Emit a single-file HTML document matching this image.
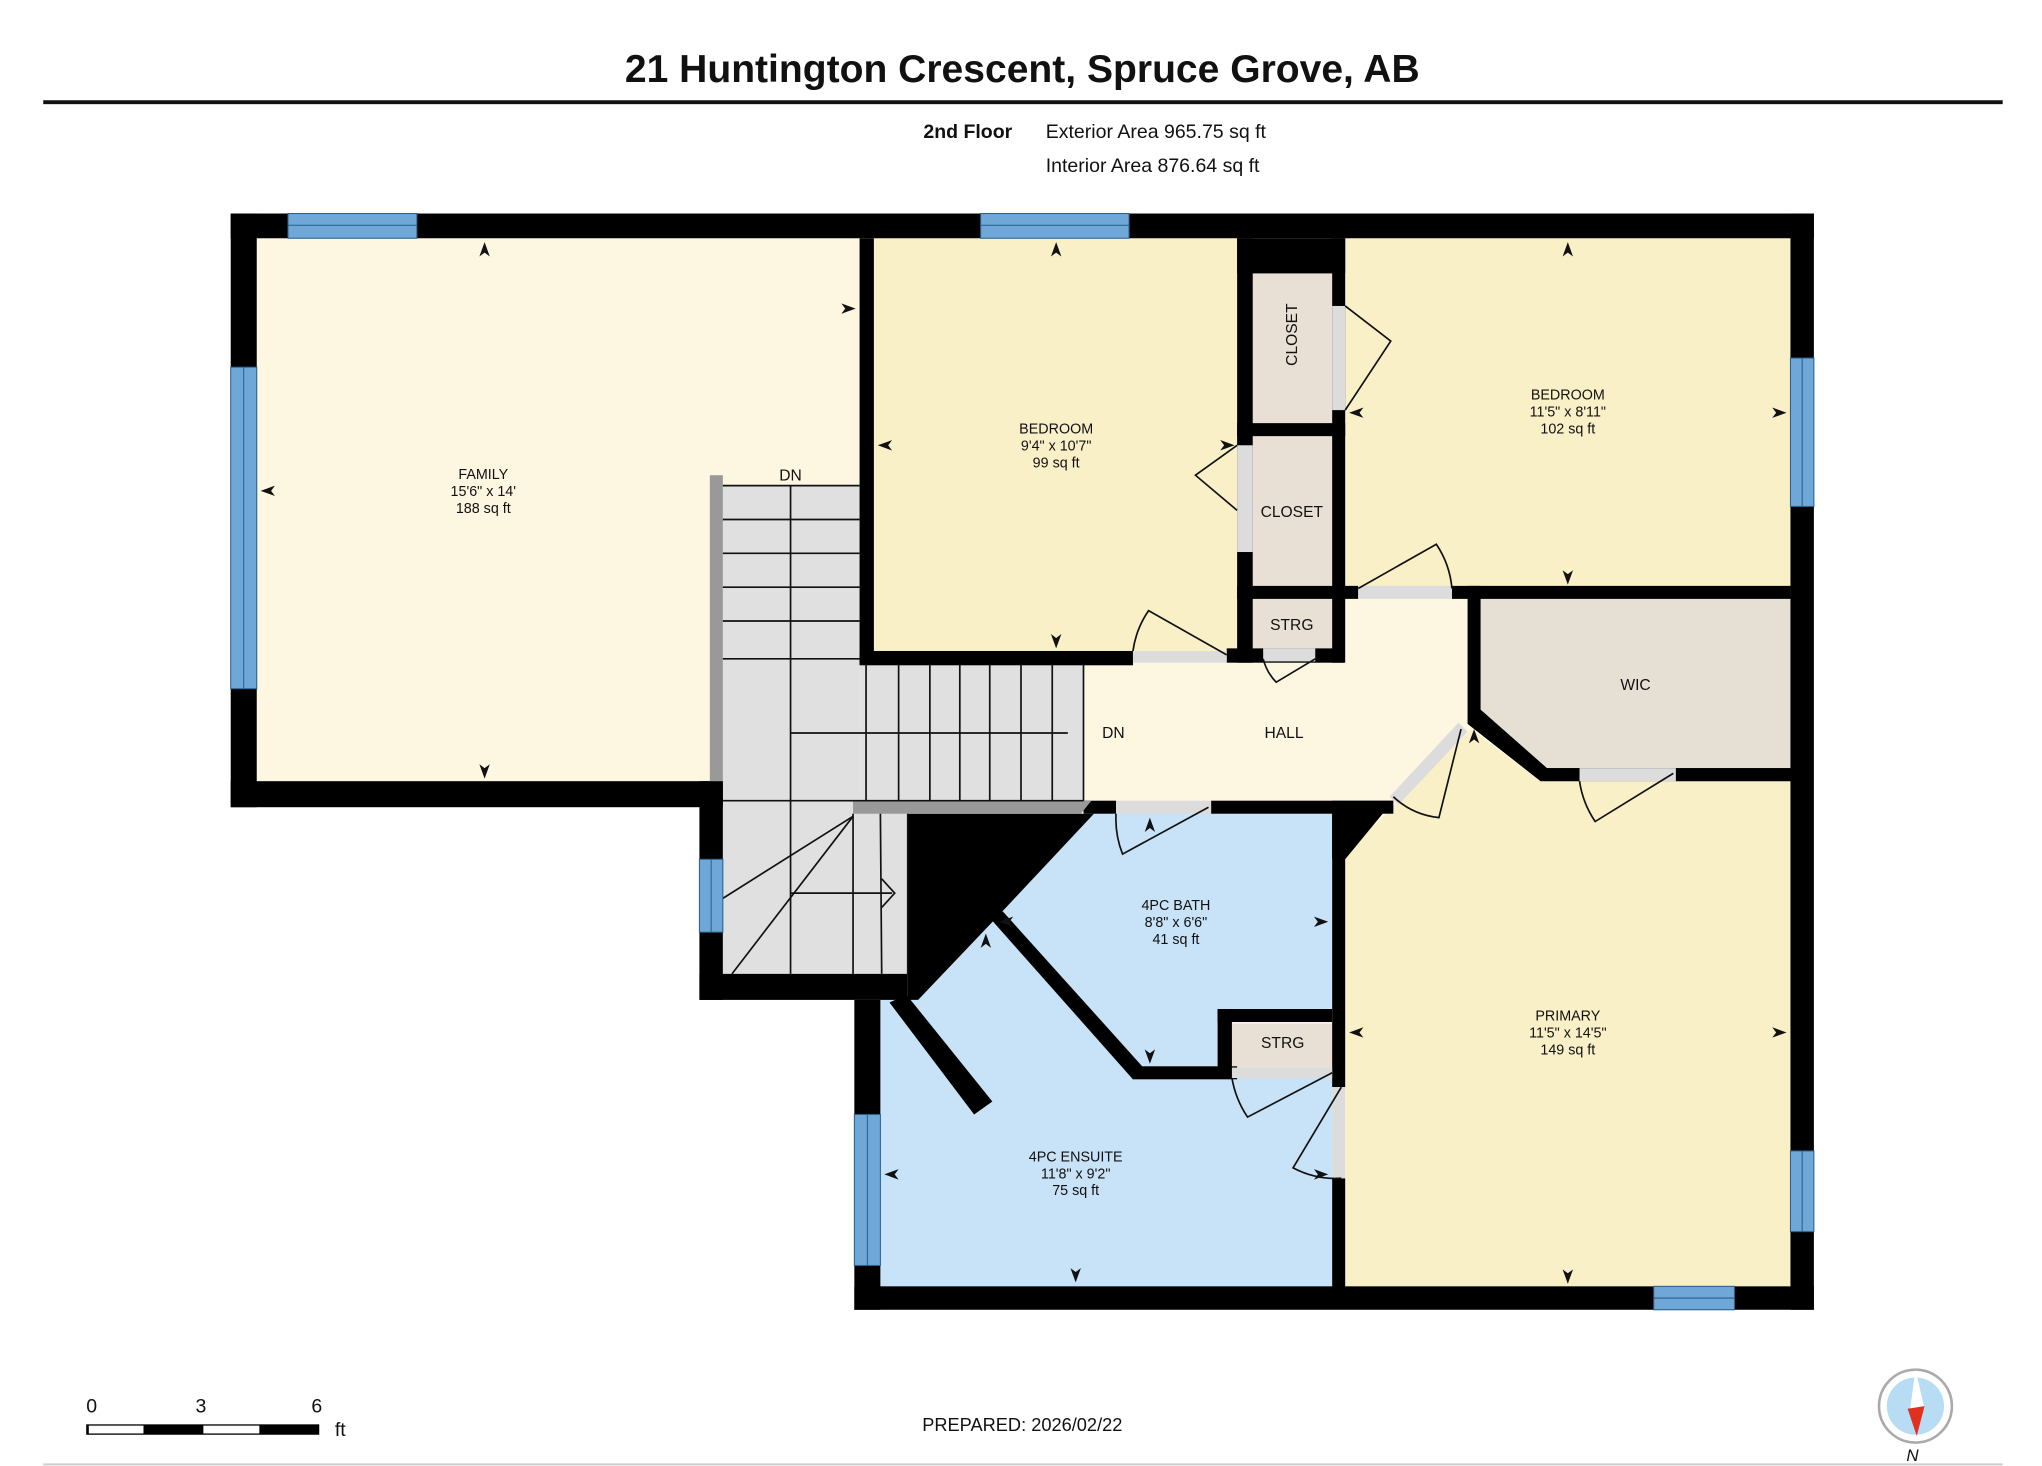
<!DOCTYPE html>
<html><head><meta charset="utf-8"><style>
html,body{margin:0;padding:0;background:#fff;width:2042px;height:1466px;overflow:hidden}
svg{display:block}
text{font-family:"Liberation Sans",Arial,sans-serif;fill:#111}
</style></head><body>
<svg width="2042" height="1466" viewBox="0 0 1568 1126" xmlns="http://www.w3.org/2000/svg">
<rect width="1568" height="1126" fill="#fff"/>
<text x="785" y="63" font-size="30" font-weight="bold" text-anchor="middle">21 Huntington Crescent, Spruce Grove, AB</text>
<rect x="33" y="77" width="1505" height="3" fill="#111"/>
<text x="709" y="106" font-size="15" font-weight="bold">2nd Floor</text>
<text x="803" y="106" font-size="15">Exterior Area 965.75 sq ft</text>
<text x="803" y="132" font-size="15">Interior Area 876.64 sq ft</text>

<!-- floor fills -->
<rect x="197" y="183" width="463" height="417" fill="#fdf6e1"/>
<rect x="671" y="183" width="279" height="317" fill="#faf0c8"/>
<rect x="1033" y="183" width="342" height="270" fill="#faf0c8"/>
<rect x="962" y="210" width="61" height="115" fill="#e8e0d4"/>
<rect x="962" y="335" width="61" height="115" fill="#e8e0d4"/>
<rect x="962" y="460" width="61" height="38" fill="#e8e0d4"/>
<rect x="832" y="509" width="300" height="107" fill="#fdf6e1"/>
<rect x="1023" y="460" width="110" height="160" fill="#fdf6e1"/>
<polygon points="1137,460 1375,460 1375,590 1183,590 1137,550" fill="#e6dfd3"/>
<polygon points="1033,655 1090,600 1130,560 1183,600 1375,600 1375,988 1033,988" fill="#faf0c8"/>
<rect x="555" y="373" width="105" height="242" fill="#e0e0e0"/>
<rect x="660" y="510" width="172" height="105" fill="#e0e0e0"/>
<rect x="555" y="615" width="142" height="133" fill="#e0e0e0"/>
<polygon points="838,624 1023,624 1023,775 935,775 935,820 870,820 765,705" fill="#c8e2f8"/>
<polygon points="676,768 705,768 760,705 870,826 1023,826 1023,988 676,988" fill="#c8e2f8"/>
<rect x="946" y="786" width="77" height="34" fill="#e8e0d4"/>

<!-- walls -->
<g fill="#000">
<rect x="177" y="164" width="1216" height="19"/>
<rect x="177" y="164" width="20" height="456"/>
<rect x="177" y="600" width="378" height="20"/>
<rect x="1375" y="164" width="18" height="842"/>
<rect x="656" y="988" width="737" height="18"/>
<rect x="656" y="768" width="20" height="238"/>
<rect x="537" y="600" width="18" height="168"/>
<rect x="537" y="748" width="160" height="20"/>
<rect x="660" y="183" width="11" height="327"/>
<rect x="660" y="500" width="210" height="11"/>
<rect x="942" y="498" width="90" height="11"/>
<rect x="950" y="183" width="83" height="27"/>
<rect x="950" y="183" width="12" height="326"/>
<rect x="1023" y="183" width="10" height="326"/>
<rect x="950" y="325" width="83" height="10"/>
<rect x="950" y="450" width="83" height="10"/>
<rect x="1115" y="450" width="260" height="10"/>
<rect x="1127" y="450" width="10" height="100"/>
<polygon points="1127,550 1137,545 1188,590 1375,590 1375,600 1183,600 1127,556"/>
<rect x="1023" y="450" width="20" height="10"/>
<rect x="1287" y="590" width="88" height="10"/>
<rect x="1183" y="590" width="30" height="10"/>
<rect x="832" y="615" width="25" height="10"/>
<rect x="930" y="615" width="140" height="10"/>
<polygon points="1023,615 1070,615 1033,660 1023,660"/>
<polygon points="697,625 840,625 765,705 705,768 697,768"/>
<rect x="1023" y="625" width="10" height="210"/>
<rect x="1023" y="905" width="10" height="85"/>
<rect x="935" y="775" width="88" height="10"/>
<rect x="935" y="775" width="11" height="50"/>
<rect x="870" y="819" width="80" height="10"/>
<polygon points="760,705 770,700 878,820 870,829"/>
<polygon points="683,770 696,764 762,846 748,856"/>
</g>
<rect x="545" y="365" width="10" height="235" fill="#999"/>
<polygon points="655,615 838,615 830,625 655,625" fill="#999"/>

<!-- stairs -->
<g stroke="#111" stroke-width="1.3" fill="none">
<line x1="607" y1="373" x2="607" y2="748"/>
<line x1="555" y1="373" x2="660" y2="373"/>
<line x1="555" y1="399" x2="660" y2="399"/>
<line x1="555" y1="425" x2="660" y2="425"/>
<line x1="555" y1="451" x2="660" y2="451"/>
<line x1="555" y1="477" x2="660" y2="477"/>
<line x1="555" y1="506" x2="660" y2="506"/>
<line x1="555" y1="615" x2="832" y2="615"/>
<line x1="665" y1="510" x2="665" y2="615"/>
<line x1="690" y1="510" x2="690" y2="615"/>
<line x1="714" y1="510" x2="714" y2="615"/>
<line x1="737" y1="510" x2="737" y2="615"/>
<line x1="760" y1="510" x2="760" y2="615"/>
<line x1="784" y1="510" x2="784" y2="615"/>
<line x1="808" y1="510" x2="808" y2="615"/>
<line x1="832" y1="510" x2="832" y2="615"/>
<line x1="607" y1="563" x2="820" y2="563"/>
<line x1="655" y1="625" x2="655" y2="748"/>
<line x1="676" y1="625" x2="677" y2="748"/>
<line x1="697" y1="625" x2="697" y2="748"/>
<line x1="655" y1="627" x2="555" y2="690"/>
<line x1="655" y1="627" x2="562" y2="748"/>
<line x1="607" y1="686" x2="685" y2="686"/>
<polyline points="677,675 687,686 677,697"/>
</g>

<!-- windows -->
<g fill="#6fa8d8" stroke="#2a5f8a" stroke-width="0.8">
<rect x="221" y="164" width="99" height="19"/>
<rect x="753" y="164" width="114" height="19"/>
<rect x="177" y="282" width="20" height="247"/>
<rect x="1375" y="275" width="18" height="114"/>
<rect x="1375" y="884" width="18" height="62"/>
<rect x="1270" y="988" width="62" height="18"/>
<rect x="656" y="856" width="20" height="116"/>
<rect x="537" y="660" width="18" height="56"/>
</g>
<g stroke="#2a5f8a" stroke-width="0.8">
<line x1="221" y1="173" x2="320" y2="173"/><line x1="753" y1="173" x2="867" y2="173"/>
<line x1="187" y1="282" x2="187" y2="529"/><line x1="1384" y1="275" x2="1384" y2="389"/>
<line x1="1384" y1="884" x2="1384" y2="946"/><line x1="1270" y1="997" x2="1332" y2="997"/>
<line x1="666" y1="856" x2="666" y2="972"/><line x1="546" y1="660" x2="546" y2="716"/>
</g>

<!-- doors -->
<g fill="#dcdcdc">
<rect x="870" y="500" width="72" height="9"/>
<rect x="970" y="498" width="40" height="10"/>
<rect x="1043" y="450" width="72" height="10"/>
<rect x="1023" y="235" width="10" height="80"/>
<rect x="950" y="342" width="12" height="82"/>
<rect x="1213" y="590" width="74" height="10"/>
<rect x="857" y="615" width="73" height="10"/>
<polygon points="1067,612 1120,555 1127,562 1074,618"/>
<rect x="946" y="820" width="77" height="8"/>
<rect x="1023" y="835" width="10" height="70"/>
</g>
<g stroke="#111" stroke-width="1.3" fill="none">
<path d="M870,500 A72,72 0 0 1 882,469 L942,503"/>
<path d="M1010,506 L980,524 A40,40 0 0 1 970,506"/>
<path d="M1043,452 L1103,418 A72,72 0 0 1 1115,452"/>
<path d="M1033,235 L1068,262 L1033,315"/>
<path d="M950,342 L918,365 L950,392"/>
<path d="M1213,600 A74,74 0 0 0 1225,631 L1285,594"/>
<path d="M857,625 A73,73 0 0 0 862,656 L928,620"/>
<path d="M1070,612 A60,60 0 0 0 1105,628 L1122,560"/>
<path d="M946,828 A77,77 0 0 0 958,858 L1023,824"/>
<path d="M1030,835 L993,897 A70,70 0 0 0 1030,905"/>
</g>

<!-- dimension arrows -->
<g fill="#111">
<path d="M372,186 l-4,11 l4,-3 l4,3z"/><path d="M372,598 l-4,-11 l4,3 l4,-3z"/>
<path d="M200,377 l11,-4 l-3,4 l3,4z"/><path d="M657,237 l-11,-4 l3,4 l-3,4z"/>
<path d="M811,186 l-4,11 l4,-3 l4,3z"/><path d="M811,498 l-4,-11 l4,3 l4,-3z"/>
<path d="M674,342 l11,-4 l-3,4 l3,4z"/><path d="M948,342 l-11,-4 l3,4 l-3,4z"/>
<path d="M1204,186 l-4,11 l4,-3 l4,3z"/><path d="M1204,449 l-4,-11 l4,3 l4,-3z"/>
<path d="M1036,317 l11,-4 l-3,4 l3,4z"/><path d="M1372,317 l-11,-4 l3,4 l-3,4z"/>
<path d="M1132,560 l-4,11 l4,-3 l4,3z"/><path d="M1204,986 l-4,-11 l4,3 l4,-3z"/>
<path d="M1036,793 l11,-4 l-3,4 l3,4z"/><path d="M1372,793 l-11,-4 l3,4 l-3,4z"/>
<path d="M883,628 l-4,11 l4,-3 l4,3z"/><path d="M883,817 l-4,-11 l4,3 l4,-3z"/>
<path d="M767,708 l11,-4 l-3,4 l3,4z"/><path d="M1020,708 l-11,-4 l3,4 l-3,4z"/>
<path d="M757,717 l-4,11 l4,-3 l4,3z"/><path d="M826,985 l-4,-11 l4,3 l4,-3z"/>
<path d="M679,902 l11,-4 l-3,4 l3,4z"/><path d="M1020,902 l-11,-4 l3,4 l-3,4z"/>
</g>

<!-- labels -->
<g font-size="11" text-anchor="middle">
<text x="371" y="368">FAMILY</text><text x="371" y="381">15'6" x 14'</text><text x="371" y="394">188 sq ft</text>
<text x="811" y="333">BEDROOM</text><text x="811" y="346">9'4" x 10'7"</text><text x="811" y="359">99 sq ft</text>
<text x="1204" y="307">BEDROOM</text><text x="1204" y="320">11'5" x 8'11"</text><text x="1204" y="333">102 sq ft</text>
<text x="1204" y="784">PRIMARY</text><text x="1204" y="797">11'5" x 14'5"</text><text x="1204" y="810">149 sq ft</text>
<text x="903" y="699">4PC BATH</text><text x="903" y="712">8'8" x 6'6"</text><text x="903" y="725">41 sq ft</text>
<text x="826" y="892">4PC ENSUITE</text><text x="826" y="905">11'8" x 9'2"</text><text x="826" y="918">75 sq ft</text>
<text x="1256" y="530" font-size="12">WIC</text>
<text x="986" y="567" font-size="12">HALL</text>
<text x="855" y="567" font-size="12">DN</text>
<text x="607" y="369" font-size="12">DN</text>
<text x="992" y="397" font-size="12">CLOSET</text>
<text x="992" y="484" font-size="12">STRG</text>
<text x="985" y="805" font-size="12">STRG</text>
<text x="0" y="0" font-size="12" transform="translate(996,257) rotate(-90)">CLOSET</text>
</g>

<!-- footer -->
<text x="66" y="1085" font-size="15" fill="#bbb">0</text>
<text x="150" y="1085" font-size="15">3</text>
<text x="239" y="1085" font-size="15">6</text>
<rect x="66" y="1094" width="179" height="8" fill="#000"/>
<rect x="68" y="1095" width="42" height="6" fill="#fff"/>
<rect x="156" y="1095" width="43" height="6" fill="#fff"/>
<text x="257" y="1103" font-size="15">ft</text>
<text x="785" y="1099" font-size="14" text-anchor="middle">PREPARED: 2026/02/22</text>
<circle cx="1471" cy="1080" r="28" fill="#fff" stroke="#aaa" stroke-width="2"/>
<circle cx="1471" cy="1080" r="22" fill="#b8dcf4"/>
<polygon points="1471,1052 1467,1082 1478,1082" fill="#fff"/>
<polygon points="1465,1082 1478,1080 1472,1103" fill="#e03020"/>
<text x="1464" y="1122" font-size="13" font-style="italic">N</text>
<rect x="33" y="1124" width="1505" height="1.5" fill="#ccc"/>
</svg>
</body></html>
